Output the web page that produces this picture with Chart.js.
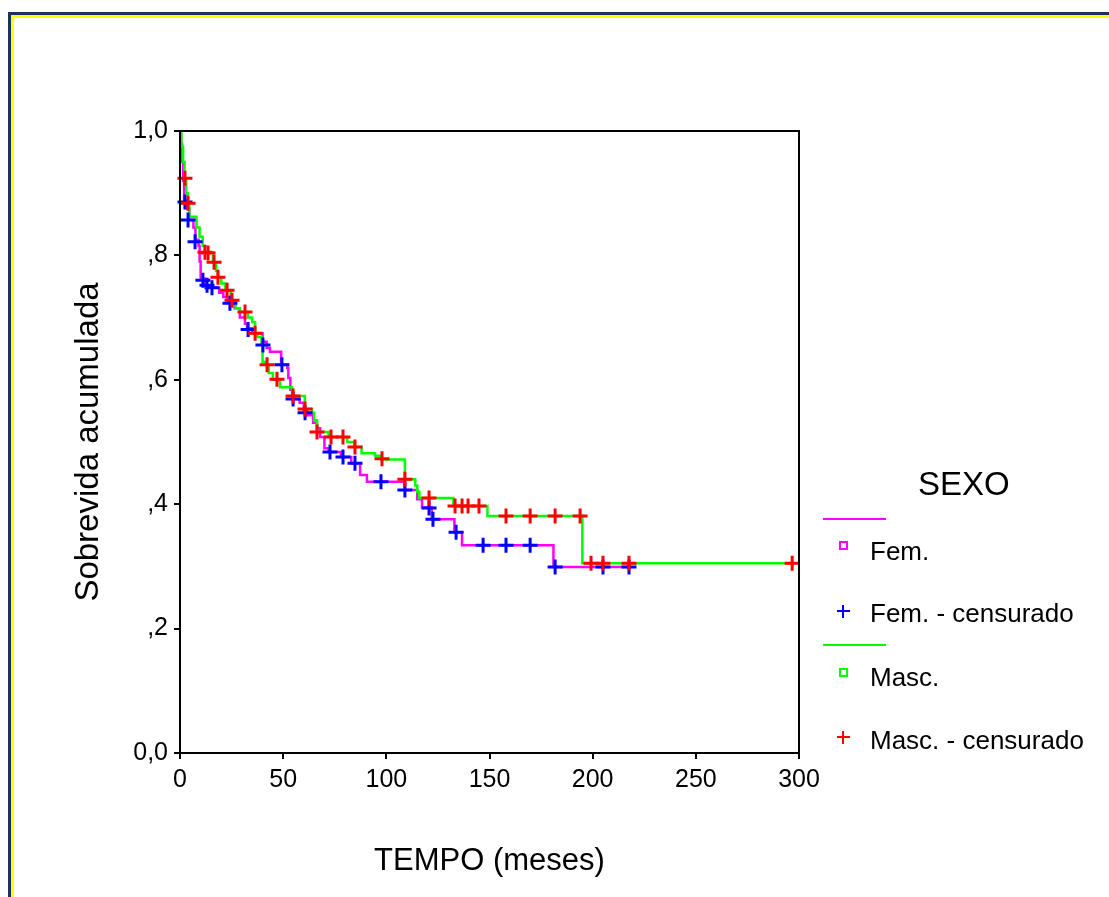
<!DOCTYPE html>
<html>
<head>
<meta charset="utf-8">
<script src="https://cdn.jsdelivr.net/npm/chart.js@4.4.0/dist/chart.umd.min.js"></script>
<style>
html, body { margin: 0; padding: 0; background: #fff; overflow: hidden; }
body { width: 1109px; height: 897px; position: relative; font-family: "Liberation Sans", Arial, sans-serif; }
#frame { position: absolute; left: 8px; top: 12px; width: 1200px; height: 1000px; border: 3px solid #17335e; box-sizing: border-box; }
#frame-inner { position: absolute; left: 0; top: 0; right: 0; bottom: 0; border: 3px solid #ffff00; }
#survival-chart { position: absolute; left: 0; top: 0; }
.lg { position: absolute; color: #000; white-space: nowrap; line-height: 1; }
.lg-line { position: absolute; height: 2px; width: 63px; left: 823px; }
.lg-box { position: absolute; width: 5px; height: 5px; border: 2px solid; left: 839px; }
.lg-cross { position: absolute; left: 837px; width: 13px; height: 13px; }
.lg-cross:before, .lg-cross:after { content: ""; position: absolute; background: currentColor; }
.lg-cross:before { left: 0; top: 5px; width: 13px; height: 2px; }
.lg-cross:after { left: 5px; top: 0; width: 2px; height: 13px; }
</style>
</head>
<body>
<div id="frame"><div id="frame-inner"></div></div>
<canvas id="survival-chart" width="1109" height="897"></canvas>

<div class="lg" style="left:918px; top:467px; font-size:33px;">SEXO</div>
<div class="lg-line" style="top:518px; background:#ff00ff;"></div>
<div class="lg-box" style="top:541px; border-color:#ff00ff;"></div>
<div class="lg" style="left:870px; top:538px; font-size:26px;">Fem.</div>
<div class="lg-cross" style="top:605px; color:#0000ff;"></div>
<div class="lg" style="left:870px; top:600px; font-size:26px;">Fem. - censurado</div>
<div class="lg-line" style="top:644px; background:#00ff00;"></div>
<div class="lg-box" style="top:668px; border-color:#00ff00;"></div>
<div class="lg" style="left:870px; top:664px; font-size:26px;">Masc.</div>
<div class="lg-cross" style="top:731px; color:#ff0000;"></div>
<div class="lg" style="left:870px; top:727px; font-size:26px;">Masc. - censurado</div>

<script>
/*====================================
data
=========================================*/
// Fem. survival steps (time in months, cumulative survival)
const femTimes = [0, 0.5, 1, 1.5, 2, 3.5, 4.5, 6.5, 7.5, 9, 9.5, 10, 12, 14, 19, 21, 23, 26.5, 29, 31.5, 32.5, 35,
    40, 42, 43.6, 49, 52, 52.5, 53.5, 54.5, 58, 60, 61.6, 64.5, 66.4, 67.9, 70, 72, 78, 83, 87.3, 90.6,
    109, 115, 117.3, 122, 133, 136.7, 181, 218];
const femSurv = [1.0, 0.98, 0.95, 0.92, 0.89, 0.875, 0.857, 0.845, 0.825, 0.815, 0.79, 0.763, 0.752, 0.748, 0.74, 0.733, 0.725, 0.715, 0.70, 0.69, 0.683, 0.675,
    0.661, 0.651, 0.645, 0.624, 0.619, 0.603, 0.584, 0.569, 0.563, 0.551, 0.543, 0.531, 0.522, 0.508, 0.49, 0.484, 0.476, 0.466, 0.447, 0.436,
    0.423, 0.408, 0.395, 0.376, 0.355, 0.334, 0.299, 0.299];

// Fem. censored cases
const femCensTimes = [2.4, 3.9, 7.3, 11.1, 13.1, 15.5, 24.2, 33, 40.2, 49.4, 54.8, 60.6, 72.7, 79, 84.8, 97.4,
    109, 120.7, 122.6, 133.8, 146.9, 158, 169.7, 181.8, 205, 217.6];
const femCensSurv = [0.886, 0.857, 0.822, 0.76, 0.752, 0.748, 0.723, 0.681, 0.656, 0.624, 0.569, 0.547, 0.484, 0.476, 0.466, 0.436,
    0.423, 0.394, 0.376, 0.355, 0.334, 0.334, 0.334, 0.299, 0.299, 0.299];

// Masc. survival steps
const mascTimes = [0, 0.7, 1.5, 2.2, 3, 3.8, 4.5, 8, 9.5, 11, 12, 16, 17.5, 18.4, 20, 22, 24.5, 27, 29, 33, 35,
    36.4, 37.5, 39.5, 40, 42, 43, 45, 48.5, 54.3, 60.5, 64, 65, 66.4, 72, 81, 84.5, 88, 94.5, 97.5,
    109, 114, 115, 116, 132.5, 149, 195, 297];
const mascSurv = [1.0, 0.975, 0.95, 0.924, 0.9, 0.884, 0.862, 0.845, 0.83, 0.815, 0.805, 0.789, 0.775, 0.765, 0.755, 0.744, 0.728, 0.715, 0.709, 0.70, 0.693,
    0.675, 0.669, 0.66, 0.629, 0.624, 0.611, 0.60, 0.588, 0.574, 0.553, 0.547, 0.535, 0.516, 0.508, 0.50, 0.492, 0.482, 0.478, 0.472,
    0.44, 0.43, 0.42, 0.41, 0.397, 0.381, 0.305, 0.305];

// Masc. censored cases
const mascCensTimes = [2.4, 3.9, 12.1, 13.6, 16.5, 18.4, 22.8, 25.2, 31.5, 36.4, 42.2, 47, 54.8, 60.6, 66.4, 73.2, 79, 84.8, 97.9,
    109, 120.7, 133.3, 136.7, 139.6, 144.9, 158, 169.7, 181.8, 193.9, 199.2, 205, 217.6, 296.7];
const mascCensSurv = [0.924, 0.884, 0.805, 0.804, 0.789, 0.765, 0.744, 0.728, 0.709, 0.675, 0.624, 0.601, 0.574, 0.553, 0.516, 0.508, 0.508, 0.492, 0.473,
    0.44, 0.41, 0.397, 0.397, 0.397, 0.397, 0.381, 0.381, 0.381, 0.381, 0.305, 0.305, 0.305, 0.305];

const xTickLabels = ['0', '50', '100', '150', '200', '250', '300'];
const yTickLabels = ['0,0', ',2', ',4', ',6', ',8', '1,0'];

function toPoints(times, surv) {
    return times.map((t, i) => ({ x: t, y: surv[i] }));
}

/*====================================
frame round the plot area
=========================================*/
const plotFrame = {
    id: 'plotFrame',
    afterDraw(chart) {
        const a = chart.chartArea;
        const ctx = chart.ctx;
        ctx.save();
        ctx.strokeStyle = '#000';
        ctx.lineWidth = 2;
        ctx.strokeRect(a.left, a.top, a.right - a.left, a.bottom - a.top);
        ctx.restore();
    }
};

/*====================================
survival chart
=========================================*/
const survivalChart = document.getElementById('survival-chart');
if (survivalChart) {
    Chart.defaults.font.family = '"Liberation Sans", Arial, sans-serif';
    Chart.defaults.color = '#000';

    new Chart(survivalChart, {
        type: 'line',
        data: {
            datasets: [
                {
                    label: 'Fem. - censurado',
                    data: toPoints(femCensTimes, femCensSurv),
                    showLine: false,
                    pointStyle: 'cross',
                    pointRadius: 7.5,
                    pointBorderWidth: 3,
                    borderColor: '#0000ff',
                    order: 1,
                    clip: false
                },
                {
                    label: 'Masc. - censurado',
                    data: toPoints(mascCensTimes, mascCensSurv),
                    showLine: false,
                    pointStyle: 'cross',
                    pointRadius: 7.5,
                    pointBorderWidth: 3,
                    borderColor: '#ff0000',
                    order: 0,
                    clip: false
                },
                {
                    label: 'Fem.',
                    data: toPoints(femTimes, femSurv),
                    stepped: 'before',
                    borderColor: '#ff00ff',
                    borderWidth: 2.5,
                    pointRadius: 0,
                    order: 3
                },
                {
                    label: 'Masc.',
                    data: toPoints(mascTimes, mascSurv),
                    stepped: 'before',
                    borderColor: '#00ff00',
                    borderWidth: 2.5,
                    pointRadius: 0,
                    order: 2
                }
            ]
        },
        options: {
            responsive: false,
            animation: false,
            events: [],
            layout: {
                padding: { left: 0, top: 131, right: 310, bottom: 0 }
            },
            plugins: {
                legend: { display: false },
                tooltip: { enabled: false }
            },
            scales: {
                x: {
                    type: 'linear',
                    min: 0,
                    max: 300,
                    afterFit(scale) { scale.height = 144; },
                    border: { color: '#000', width: 2 },
                    grid: { drawOnChartArea: false, drawTicks: true, tickLength: 6, color: '#000', lineWidth: 2 },
                    ticks: {
                        stepSize: 50,
                        padding: 6,
                        maxRotation: 0,
                        font: { size: 25 },
                        callback: (v, i) => xTickLabels[i]
                    },
                    title: {
                        display: true,
                        text: 'TEMPO (meses)',
                        font: { size: 31 },
                        padding: { top: 0, bottom: 17 }
                    }
                },
                y: {
                    min: 0,
                    max: 1,
                    afterFit(scale) { scale.width = 180; },
                    border: { color: '#000', width: 2 },
                    grid: { drawOnChartArea: false, drawTicks: true, tickLength: 6, color: '#000', lineWidth: 2 },
                    ticks: {
                        stepSize: 0.2,
                        padding: 6,
                        font: { size: 25 },
                        callback: (v, i) => yTickLabels[i]
                    },
                    title: {
                        display: true,
                        text: 'Sobrevida acumulada',
                        font: { size: 33 },
                        padding: { top: 69, bottom: 0 }
                    }
                }
            }
        },
        plugins: [plotFrame]
    });
}
</script>
</body>
</html>
